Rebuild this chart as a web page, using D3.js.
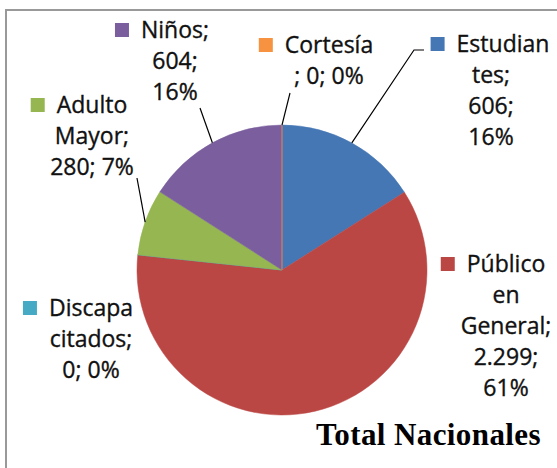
<!DOCTYPE html>
<html><head><meta charset="utf-8">
<script src="https://cdn.jsdelivr.net/npm/d3@7/dist/d3.min.js"></script>
<style>html,body{margin:0;padding:0;background:#fff;}svg{display:block;}</style>
</head><body>
<svg id="chart" width="557" height="468"></svg>
<script>
// ---- data ----
const categories = ["Estudiantes", "Público en General", "Discapacitados", "Adulto Mayor", "Niños", "Cortesía"];
const values = [606, 2299, 0, 280, 604, 0];
const colors = ["#4677b5", "#bb4744", "#46aac5", "#95b651", "#7a5e9d", "#f69240"];
const title = "Total Nacionales";
// label text lines ({v} = value, {p} = percent)
const labelLines = [
  ["Estudian", "tes;", "{v};", "{p}"],
  ["Público", "en", "General;", "{v};", "{p}"],
  ["Discapa", "citados;", "{v}; {p}"],
  ["Adulto", "Mayor;", "{v}; {p}"],
  ["Niños;", "{v};", "{p}"],
  ["Cortesía", "; {v}; {p}"]
];

// ---- layout ----
const W = 557, H = 468;
const cx = 282, cy = 270, R = 145;
const lineH = 31;
const labelPos = [
  {x: 491, y: 52, dx1: 12, leader: [[424, 50], [414, 50]]},
  {x: 506, y: 272, dx1: 0, leader: null},
  {x: 91, y: 316, dx1: 0, leader: null},
  {x: 92, y: 113, dx1: 0, leader: [[137, 178]]},
  {x: 175, y: 38, dx1: 0, leader: [[200, 108]]},
  {x: 329, y: 53, dx1: 0, leader: [[290, 93]]}
];

const svg = d3.select("#chart");
svg.append("rect").attr("width", W).attr("height", H).attr("fill", "#fff");
// frame
svg.append("path").attr("d", `M6,${H} V10 H${W}`).attr("fill", "none")
  .attr("stroke", "#999").attr("stroke-width", 2);

const total = d3.sum(values);
const data = categories.map((c, i) => ({name: c, value: values[i], color: colors[i], lines: labelLines[i], pos: labelPos[i]}));

const pie = d3.pie().value(d => d.value).sort(null);
const arcs = pie(data);
const arc = d3.arc().innerRadius(0).outerRadius(R);

const g = svg.append("g").attr("transform", `translate(${cx},${cy})`);
g.selectAll("path.slice").data(arcs).join("path")
  .attr("class", "slice")
  .attr("d", arc)
  .attr("fill", d => d.data.color)
  .attr("stroke", d => d.data.color)
  .attr("stroke-width", 0.5);

const fmtV = v => d3.format(",")(v).replace(/,/g, ".");
const fmtP = v => Math.round(v / total * 100) + "%";

// leader lines
arcs.forEach(a => {
  const p = a.data.pos;
  if (!p.leader) return;
  const mid = (a.startAngle + a.endAngle) / 2;
  const ax = cx + R * Math.sin(mid), ay = cy - R * Math.cos(mid);
  const pts = p.leader.concat([[ax, ay]]);
  svg.append("path").attr("d", d3.line()(pts)).attr("fill", "none")
    .attr("stroke", "#000").attr("stroke-width", 1.2);
});

// labels
const font = "'Open Sans', 'Noto Sans', sans-serif";
arcs.forEach(a => {
  const d = a.data, p = d.pos;
  const lg = svg.append("g");
  d.lines.forEach((ln, i) => {
    const txt = ln.replace("{v}", fmtV(d.value)).replace("{p}", fmtP(d.value));
    const t = lg.append("text")
      .attr("x", p.x + (i === 0 ? p.dx1 : 0))
      .attr("y", p.y + i * lineH)
      .attr("text-anchor", "middle")
      .attr("font-family", font)
      .attr("font-size", 23)
      .attr("fill", "#111")
      .attr("stroke", "#111")
      .attr("stroke-width", 0.35)
      .text(txt);
    if (i === 0) {
      const w = t.node().getComputedTextLength();
      const x0 = p.x + p.dx1 - w / 2;
      lg.append("rect")
        .attr("x", x0 - 12 - 14).attr("y", p.y - 15)
        .attr("width", 14).attr("height", 14)
        .attr("fill", d.color);
    }
  });
});

// title
svg.append("text").attr("x", 428.5).attr("y", 445)
  .attr("text-anchor", "middle")
  .attr("font-family", "'Liberation Serif', 'Times New Roman', serif")
  .attr("font-weight", "bold").attr("font-size", 31)
  .attr("letter-spacing", 0.4)
  .attr("fill", "#000").text(title);
</script>
</body></html>
